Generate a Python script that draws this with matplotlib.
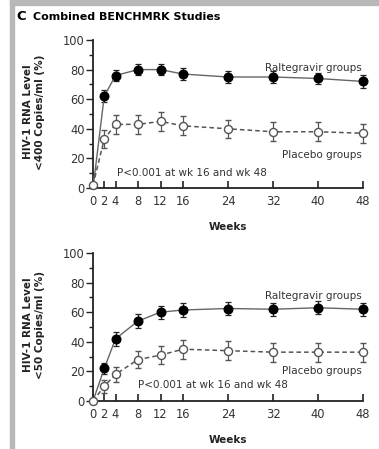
import matplotlib
matplotlib.use("Agg")
import matplotlib.pyplot as plt
from matplotlib.patches import Rectangle

weeks = [0, 2, 4, 8, 12, 16, 24, 32, 40, 48]
xtick_labels = ["0", "2", "4", "8", "12", "16", "24", "32", "40", "48"]

ral_400 = [0, 62, 76, 80, 80, 77, 75, 75, 74, 72]
ral_400_err = [0, 4, 4, 3.5, 3.5, 4, 4, 4, 4, 4.5]
pla_400 = [2, 33, 43, 43, 45, 42, 40, 38, 38, 37]
pla_400_err = [0, 6, 6.5, 6.5, 6.5, 6.5, 6, 6.5, 6.5, 6.5]

ral_50 = [0, 22, 42, 54, 60, 61.5, 62.5, 62, 63, 62]
ral_50_err = [0, 4, 4.5, 4.5, 4.5, 4.5, 4.5, 4.5, 4.5, 4.5]
pla_50 = [0, 10, 18, 28, 31, 35, 34, 33, 33, 33]
pla_50_err = [0, 4.5, 5, 6, 6, 6.5, 6.5, 6.5, 6.5, 6.5]

W, H = 379, 449
fig = plt.figure(figsize=(W / 100, H / 100), dpi=100)
plt.rcParams['font.family'] = ['DejaVu Sans']

# gray frame
fig.patches.append(Rectangle((10 / W, 1 - 5 / H), 1 - 10 / W, 5 / H, transform=fig.transFigure,
                             color="#b8b8b8", zorder=0))
fig.patches.append(Rectangle((10 / W, 0), 4 / W, 1, transform=fig.transFigure,
                             color="#b8b8b8", zorder=0))

fig.text(16 / W, 1 - 17 / H, "C", fontsize=9.5, fontweight="bold", va="center", ha="left")
fig.text(33 / W, 1 - 17 / H, "Combined BENCHMRK Studies", fontsize=8, fontweight="bold",
         va="center", ha="left")

left = 93 / W
width = (363 - 93) / W

panels = [
    dict(bottom=1 - 188 / H, top=1 - 40 / H, ral=ral_400, rerr=ral_400_err, pla=pla_400,
         perr=pla_400_err, ylab="HIV-1 RNA Level\n<400 Copies/ml (%)",
         ral_y=68, pla_y=155, p_x=117, p_y=173, weeks_y=227, ylab_y=112),
    dict(bottom=1 - 401 / H, top=1 - 253 / H, ral=ral_50, rerr=ral_50_err, pla=pla_50,
         perr=pla_50_err, ylab="HIV-1 RNA Level\n<50 Copies/ml (%)",
         ral_y=296, pla_y=371, p_x=138, p_y=385, weeks_y=440, ylab_y=325),
]

for p in panels:
    ax = fig.add_axes([left, p["bottom"], width, p["top"] - p["bottom"]])
    ax.errorbar(weeks, p["ral"], yerr=p["rerr"], fmt="-o", color="#666666", lw=1.0,
                ms=6.2, mfc="black", mec="black", ecolor="#222222",
                elinewidth=0.9, capsize=2.5, capthick=0.9, clip_on=False, zorder=3,
                markevery=list(range(1, len(weeks))))
    ax.errorbar(weeks, p["pla"], yerr=p["perr"], fmt="--o", color="#555555", lw=1.1,
                ms=5.8, mfc="white", mec="#555555", mew=1.0, ecolor="#555555",
                elinewidth=0.9, capsize=2.5, capthick=0.9, clip_on=False, zorder=4,
                dashes=(3, 2))
    ax.set_xlim(0, 48)
    ax.set_ylim(0, 100)
    ax.set_xticks(weeks)
    ax.set_xticklabels(xtick_labels)
    ax.set_yticks([0, 20, 40, 60, 80, 100])
    ax.set_yticks([10, 30, 50, 70, 90], minor=True)
    for s in ["top", "right"]:
        ax.spines[s].set_visible(False)
    for s in ["left", "bottom"]:
        ax.spines[s].set_linewidth(1.3)
        ax.spines[s].set_color("#222222")
    ax.tick_params(axis="x", direction="in", length=5, width=1.2, labelsize=8.3,
                   pad=5, colors="#222222", labelcolor="#333333")
    ax.tick_params(axis="y", which="major", direction="out", length=5, width=1.0,
                   labelsize=8.3, pad=1, colors="#222222", labelcolor="#333333")
    ax.tick_params(axis="y", which="minor", direction="out", length=3, width=1.0,
                   colors="#222222")
    ax.patch.set_alpha(0)

    fig.text(362 / W, 1 - p["ral_y"] / H, "Raltegravir groups", fontsize=7.5,
             ha="right", va="center", color="#333333")
    fig.text(362 / W, 1 - p["pla_y"] / H, "Placebo groups", fontsize=7.5,
             ha="right", va="center", color="#333333")
    fig.text(p["p_x"] / W, 1 - p["p_y"] / H, "P<0.001 at wk 16 and wk 48", fontsize=7.5,
             ha="left", va="center", color="#333333")
    fig.text(228 / W, 1 - p["weeks_y"] / H, "Weeks", fontsize=7.5, fontweight="bold",
             ha="center", va="center", color="#222222")
    fig.text(34 / W, 1 - p["ylab_y"] / H, p["ylab"], fontsize=7.5, fontweight="bold",
             ha="center", va="center", rotation=90, color="#222222", linespacing=1.15)

fig.savefig("out.png", dpi=100)
